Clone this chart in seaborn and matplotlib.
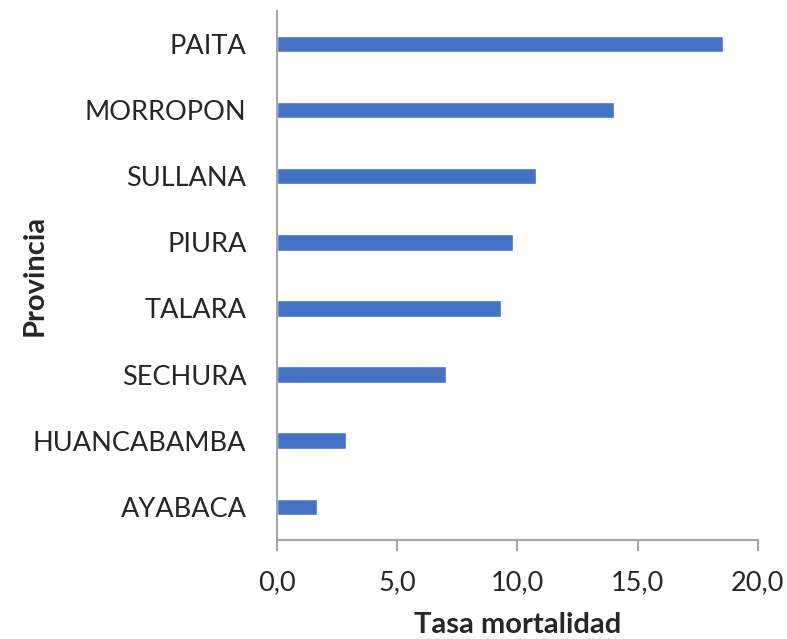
import matplotlib
matplotlib.use("Agg")
import matplotlib.pyplot as plt
import matplotlib.ticker as mticker
import seaborn as sns
import pandas as pd

provincias = ["PAITA", "MORROPON", "SULLANA", "PIURA", "TALARA", "SECHURA", "HUANCABAMBA", "AYABACA"]
tasas = [18.54, 14.01, 10.77, 9.81, 9.31, 7.03, 2.87, 1.66]
xticks = [0, 5, 10, 15, 20]

df = pd.DataFrame({"Provincia": provincias, "Tasa": tasas})

sns.set_style("white")
plt.rcParams["font.family"] = ["Lato", "DejaVu Sans"]

fig = plt.figure(figsize=(7.87, 6.39), dpi=100)
ax = fig.add_axes([0.352, 0.155, 0.611, 0.828])
sns.barplot(data=df, x="Tasa", y="Provincia", orient="h", color="#4472C4",
            width=0.25, saturation=1, ax=ax)

ax.set_xlim(0, 20)
ax.set_xticks(xticks)
ax.xaxis.set_major_formatter(mticker.FuncFormatter(lambda v, p: f"{v:.1f}".replace(".", ",")))
for s in ["top", "right"]:
    ax.spines[s].set_visible(False)
for s in ["left", "bottom"]:
    ax.spines[s].set_color("#A6A6A6")
    ax.spines[s].set_linewidth(1.5)
ax.tick_params(axis="x", direction="out", length=8, width=1.5, color="#A6A6A6",
               labelsize=19.5, pad=14, bottom=True)
ax.tick_params(axis="y", length=0, labelsize=19.5, pad=22)
ax.set_xlabel("Tasa mortalidad", fontsize=21, fontweight="bold", labelpad=12)
ax.set_ylabel("Provincia", fontsize=21, fontweight="bold")
ax.yaxis.set_label_coords(-0.478, 0.5)

fig.savefig("out.png", dpi=100)
